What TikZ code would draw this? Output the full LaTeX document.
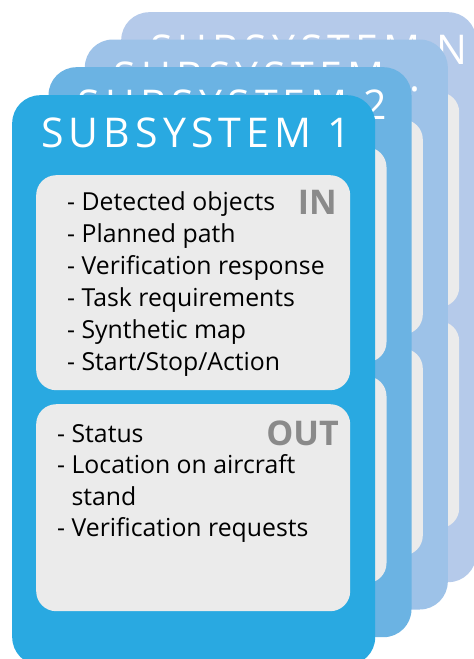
\documentclass[tikz,border=0pt]{standalone}
\usepackage{fontspec}
\setmainfont{Open Sans}
\newfontfamily\titlefont[LetterSpace=12.5]{Open Sans}
\definecolor{cardA}{HTML}{29A9E1}
\definecolor{cardB}{HTML}{6BB3E3}
\definecolor{cardC}{HTML}{9DC2E8}
\definecolor{cardN}{HTML}{B5CAEA}
\definecolor{panel}{HTML}{EBEBEB}
\definecolor{tag}{HTML}{8A8A8A}
\newcommand\moretitle{SUBSYSTEM\kern4pt.\kern0pt.\kern0pt.}
\newcommand\actionitem{Start/Stop/Action}
\begin{document}
\begin{tikzpicture}[x=1pt,y=-1pt,
  card/.style={rectangle, rounded corners=28pt, draw=none, inner sep=0pt,
    minimum height=570pt, anchor=north west},
  panelbox/.style={rectangle, rounded corners=20pt, fill=panel, draw=none,
    inner sep=0pt, minimum width=314pt, anchor=north west},
  cardtitle/.style={inner sep=0pt, anchor=base west, text=white,
    font=\titlefont\fontsize{41}{41}\selectfont},
  item/.style={inner sep=0pt, anchor=base west, text=black,
    font=\fontsize{24.8}{28}\selectfont},
  tagtext/.style={inner sep=0pt, anchor=base east, text=tag,
    font=\bfseries\fontsize{34}{34}\selectfont}]
\useasboundingbox (0,0) rectangle (474,659);
\clip (0,0) rectangle (474,659);

% stacked cards at the back, drawn from the farthest one forward
\foreach \n/\l/\t/\w/\c/\ttl in {n/121/12/355/cardN/{SUBSYSTEM N},
    c/84.6/39.3/363/cardC/\moretitle,
    b/48.3/67/363/cardB/{SUBSYSTEM 2}}{
  \node[card, fill=\c, minimum width=\w] (card\n) at (\l,\t) {};
  \node[panelbox, minimum height=215pt] (in\n) at ({\l+24},{\t+80}) {};
  \node[panelbox, minimum height=207pt] (out\n) at ({\l+24},{\t+309}) {};
  \node[cardtitle] (title\n) at ({\l+29},{\t+52}) {\ttl};
}

% front card
\node[card, fill=cardA, minimum width=363pt] (card1) at (12,95) {};
\node[panelbox, minimum height=215pt] (in1) at (36,175) {};
\node[panelbox, minimum height=207pt] (out1) at (36,404) {};
\node[cardtitle] (title1) at (41,147) {SUBSYSTEM 1};

\node[tagtext] (intag) at (337,214) {IN};
\node[tagtext] (outtag) at (339,445) {OUT};

\foreach \k/\txt in {0/{Detected objects}, 1/{Planned path},
    2/{Verification response}, 3/{Task requirements},
    4/{Synthetic map}, 5/\actionitem}{
  \node[item] (initem\k) at (67,{210+32*\k}) {- \txt};
}

\node[item] (outitem0) at (57,442) {- Status};
\node[item] (outitem1) at (57,473.5) {- Location on aircraft};
\node[item] (outitem2) at (57,505) {\phantom{- }stand};
\node[item] (outitem3) at (57,536.5) {- Verification requests};
\end{tikzpicture}
\end{document}
